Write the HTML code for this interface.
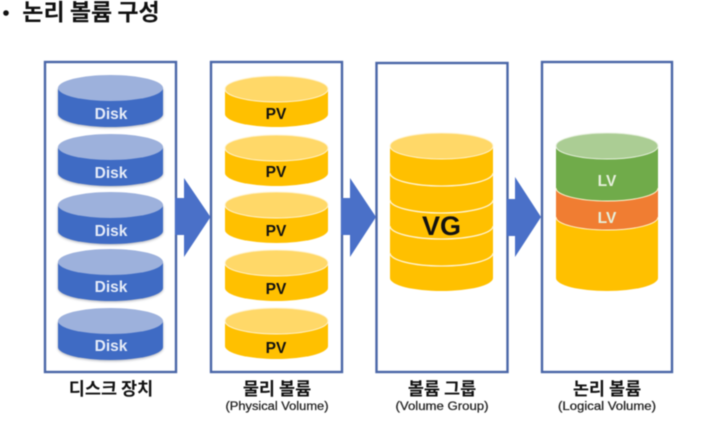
<!DOCTYPE html>
<html>
<head>
<meta charset="utf-8">
<style>
html,body{margin:0;padding:0;background:#fff;width:725px;height:422px;overflow:hidden}
svg{display:block;filter:blur(0.55px)}
text{font-family:"Liberation Sans","Noto Sans CJK KR",sans-serif;text-anchor:middle}
.k{font-family:"Noto Sans CJK KR","NanumGothic",sans-serif;font-weight:700;font-size:17.5px;fill:#111}
.s{font-family:"Liberation Sans",sans-serif;font-weight:400;font-size:11.5px;fill:#222;stroke:#222;stroke-width:.25px}
.d{font-weight:700;font-size:15.5px;fill:#e6ecf8}
.p{font-weight:700;font-size:15.5px;fill:#111}
.l{font-weight:700;font-size:15.5px;fill:#e6f0dc}
</style>
</head>
<body>
<svg width="725" height="422" viewBox="0 0 725 422" xmlns="http://www.w3.org/2000/svg">
<defs>
<filter id="sh" x="-10%" y="-10%" width="120%" height="130%"><feGaussianBlur stdDeviation="1.300"/></filter>
<symbol id="disk" overflow="visible">
<path d="M0 14V40A52.500 13 0 0 0 105 40V14Z" fill="#6b6f80" opacity=".55" filter="url(#sh)"/>
<path d="M0 13V39A52.500 13 0 0 0 105 39V13Z" fill="#3f6bc4"/>
<ellipse cx="52.500" cy="13" rx="52.500" ry="13" fill="#9db1dc"/>
</symbol>
<symbol id="pv" overflow="visible">
<path d="M0 13V38A51.500 13 0 0 0 103 38V13Z" fill="#ffc000"/>
<ellipse cx="51.500" cy="13" rx="51.500" ry="13" fill="#ffd868" stroke="#fff3d0" stroke-width="1"/>
</symbol>
</defs>
<rect width="725" height="422" fill="#fff"/>

<circle cx="6" cy="13" r="2.800" fill="#111"/>
<text x="91" y="20" class="k" style="font-size:23px">논리 볼륨 구성</text>

<g fill="none" stroke="#4a66a8" stroke-width="2.400">
<rect x="45" y="62" width="131" height="310"/>
<rect x="211" y="62" width="131" height="310"/>
<rect x="376.500" y="63" width="131" height="309"/>
<rect x="542" y="62" width="130" height="310"/>
</g>

<g>
<use href="#disk" x="58" y="75"/>
<use href="#disk" x="58" y="134"/>
<use href="#disk" x="58" y="192"/>
<use href="#disk" x="58" y="249"/>
<use href="#disk" x="58" y="308"/>
</g>
<text x="111" y="119" class="d">Disk</text>
<text x="111" y="178" class="d">Disk</text>
<text x="111" y="236" class="d">Disk</text>
<text x="111" y="292" class="d">Disk</text>
<text x="111" y="351" class="d">Disk</text>

<g>
<use href="#pv" x="225" y="76"/>
<use href="#pv" x="225" y="135"/>
<use href="#pv" x="225" y="192"/>
<use href="#pv" x="225" y="250"/>
<use href="#pv" x="225" y="308"/>
</g>
<text x="276" y="119" class="p">PV</text>
<text x="276" y="177" class="p">PV</text>
<text x="276" y="236" class="p">PV</text>
<text x="276" y="294" class="p">PV</text>
<text x="276" y="353" class="p">PV</text>

<path d="M175 198H184V178L210.500 217L184 257V235H175Z" fill="#4a70c8"/>
<path d="M341 198H350V178L376 217L350 257V235H341Z" fill="#4a70c8"/>
<path d="M507 199H515V177L541 217L515 257V236H507Z" fill="#4a70c8"/>

<!-- VG -->
<path d="M390 146V278A51.500 13 0 0 0 493 278V146Z" fill="#ffc000"/>
<g fill="none" stroke="#fff3d0" stroke-width="1.300">
<path d="M390 173A51.500 13 0 0 0 493 173"/>
<path d="M390 200A51.500 13 0 0 0 493 200"/>
<path d="M390 226A51.500 13 0 0 0 493 226"/>
<path d="M390 253A51.500 13 0 0 0 493 253"/>
</g>
<ellipse cx="441.500" cy="146" rx="51.500" ry="13" fill="#ffd868" stroke="#fff3d0" stroke-width="1"/>
<text x="441.500" y="235" style="font-weight:700;font-size:27px;fill:#111">VG</text>

<!-- LV -->
<path d="M556 146V278A51 13 0 0 0 658 278V146Z" fill="#ffc000"/>
<path d="M556 188V217A51 13 0 0 0 658 217V188Z" fill="#f07d32" stroke="none"/>
<path d="M556 217A51 13 0 0 0 658 217" fill="none" stroke="#fff3d0" stroke-width="1"/>
<path d="M556 146V188A51 13 0 0 0 658 188V146Z" fill="#70ab4a" stroke="none"/>
<path d="M556 188A51 13 0 0 0 658 188" fill="none" stroke="#fff3d0" stroke-width="1"/>
<ellipse cx="607" cy="146" rx="51" ry="13" fill="#abcd94" stroke="#e6f0dd" stroke-width="1"/>
<text x="607" y="186" class="l">LV</text>
<text x="607" y="223" class="l">LV</text>

<text x="111" y="395" class="k">디스크 장치</text>
<text x="277" y="395" class="k">물리 볼륨</text>
<text x="442" y="395" class="k">볼륨 그룹</text>
<text x="607" y="395" class="k">논리 볼륨</text>
<text x="277" y="410" class="s" textLength="103" lengthAdjust="spacingAndGlyphs">(Physical Volume)</text>
<text x="442" y="410" class="s" textLength="93" lengthAdjust="spacingAndGlyphs">(Volume Group)</text>
<text x="607" y="410" class="s" textLength="98" lengthAdjust="spacingAndGlyphs">(Logical Volume)</text>
</svg>
</body>
</html>
